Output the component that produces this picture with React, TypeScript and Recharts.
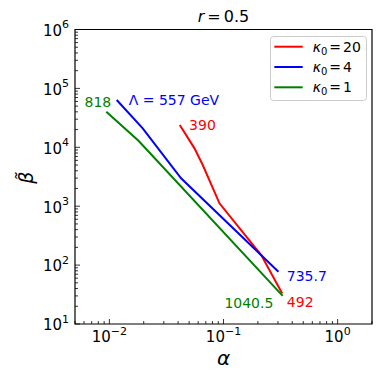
import React from "react";
import {
  LineChart,
  Line,
  XAxis,
  YAxis,
  ReferenceArea,
  ReferenceDot,
  Legend,
} from "recharts";

const FONT = "'DejaVu Sans', sans-serif";

// kappa_0 = 20
const alphaK20 = [0.0414, 0.0557, 0.0658, 0.0922, 0.214, 0.327];
const betaK20 = [23900, 9600, 5000, 1120, 148, 33];
// kappa_0 = 4
const alphaK4 = [0.0116, 0.0196, 0.0425, 0.303];
const betaK4 = [63500, 21000, 2980, 77];
// kappa_0 = 1
const alphaK1 = [0.0094, 0.018, 0.33];
const betaK1 = [40200, 12900, 30];

const kappaValues = ["20", "4", "1"];
const colors = ["#ff0000", "#0000ff", "#008000"];

// Lambda labels at each end of the curves
const startLabels = ["390", "Λ = 557 GeV", "818"];
const endLabels = ["492", "735.7", "1040.5"];

const xMajor = [0.01, 0.1, 1];
const xMajorExp = ["−2", "−1", "0"];
const yMajor = [10, 100, 1000, 1e4, 1e5, 1e6];
const yMajorExp = ["1", "2", "3", "4", "5", "6"];

const xDomain = [0.005, 2];
const yDomain = [10, 1e6];

// label offsets in px from the curve end points: [dx, dy, anchor]
const startOffsets: [number, number, string][] = [
  [9.3, 4.8, "start"],
  [12, 5.2, "start"],
  [5, -4.8, "end"],
];
const endOffsets: [number, number, string][] = [
  [4.6, 13.5, "start"],
  [8.3, 9.2, "start"],
  [-9.3, 11.8, "end"],
];

const toPoints = (xs: number[], ys: number[]) =>
  xs.map((a, i) => ({ a, b: ys[i] }));

const series = [
  { alpha: alphaK20, beta: betaK20 },
  { alpha: alphaK4, beta: betaK4 },
  { alpha: alphaK1, beta: betaK1 },
].map((s, i) => ({
  ...s,
  data: toPoints(s.alpha, s.beta),
  color: colors[i],
  name: kappaValues[i],
}));

// major + minor log ticks inside a domain
function logTicks(lo: number, hi: number) {
  const out: number[] = [];
  for (let e = Math.floor(Math.log10(lo)); e <= Math.ceil(Math.log10(hi)); e++) {
    for (let m = 1; m <= 9; m++) {
      const v = Number((m * Math.pow(10, e)).toPrecision(6));
      if (v >= lo * 0.9999 && v <= hi * 1.0001) out.push(v);
    }
  }
  return out;
}

const majorIndex = (majors: number[], v: number) =>
  majors.findIndex((m) => Math.abs(v / m - 1) < 1e-6);

function XTick(props: any) {
  const { x, y, payload } = props;
  const i = majorIndex(xMajor, payload.value);
  const len = i >= 0 ? 5 : 3;
  return (
    <g>
      <line x1={x} y1={y} x2={x} y2={y - len} stroke="#000" strokeWidth={0.8} />
      {i >= 0 && (
        <text x={x} y={y + 17.5} textAnchor="middle" fontFamily={FONT} fontSize={15} fill="#000">
          <tspan>10</tspan>
          <tspan dy={-7} fontSize={11}>
            {xMajorExp[i]}
          </tspan>
        </text>
      )}
    </g>
  );
}

function YTick(props: any) {
  const { x, y, payload } = props;
  const i = majorIndex(yMajor, payload.value);
  const len = i >= 0 ? 5 : 3;
  return (
    <g>
      <line x1={x} y1={y} x2={x + len} y2={y} stroke="#000" strokeWidth={0.8} />
      {i >= 0 && (
        <text x={x - 6} y={y + 6.3} textAnchor="end" fontFamily={FONT} fontSize={15} fill="#000">
          <tspan>10</tspan>
          <tspan dy={-7.5} fontSize={11}>
            {yMajorExp[i]}
          </tspan>
        </text>
      )}
    </g>
  );
}

function LegendBox() {
  return (
    <svg width={97} height={65} style={{ display: "block" }}>
      <rect x={0.5} y={0.5} width={96} height={64} rx={3} fill="#fff" fillOpacity={0.8} stroke="#cccccc" />
      {series.map((s, i) => {
        const cy = 10.7 + 20.3 * i;
        return (
          <g key={s.name}>
            <line x1={4.3} x2={32.7} y1={cy} y2={cy} stroke={s.color} strokeWidth={2} />
            <text x={42.7} y={cy + 5} fontFamily={FONT} fontSize={14} fill="#000">
              <tspan fontStyle="italic">κ</tspan>
              <tspan fontSize={10} dy={3}>0</tspan>
              <tspan dy={-3} dx={2}>=</tspan>
              <tspan dx={2}>{s.name}</tspan>
            </text>
          </g>
        );
      })}
    </svg>
  );
}

function annot(text: string, off: [number, number, string], color: string) {
  return (p: any) => (
    <text
      x={p.cx + off[0]}
      y={p.cy + off[1]}
      textAnchor={off[2] as any}
      fontFamily={FONT}
      fontSize={14}
      fill={color}
    >
      {text}
    </text>
  );
}

export default function App() {
  return (
    <div style={{ position: "absolute", left: 0, top: 0, width: 382, height: 379, background: "#fff" }}>
      <LineChart
        width={382}
        height={379}
        margin={{ top: 29.5, right: 10, bottom: 0, left: 0 }}
      >
        <XAxis
          dataKey="a"
          type="number"
          scale="log"
          domain={xDomain}
          allowDataOverflow
          ticks={logTicks(xDomain[0], xDomain[1])}
          interval={0}
          tickSize={0}
          tickMargin={0}
          tickLine={false}
          axisLine={false}
          tick={(p: any) => <XTick {...p} />}
          height={55}
          label={(p: any) => {
            const vb = p.viewBox;
            return (
              <text x={vb.x + vb.width / 2} y={vb.y + 41} textAnchor="middle" fontFamily={FONT} fontSize={20} fontStyle="italic" fill="#000">
                α
              </text>
            );
          }}
        />
        <YAxis
          type="number"
          scale="log"
          domain={yDomain}
          allowDataOverflow
          ticks={logTicks(yDomain[0], yDomain[1])}
          interval={0}
          tickSize={0}
          tickMargin={0}
          tickLine={false}
          axisLine={false}
          tick={(p: any) => <YTick {...p} />}
          width={75}
          label={(p: any) => {
            const vb = p.viewBox;
            const cx = 26;
            const cy = vb.y + vb.height / 2 + 1;
            return (
              <text
                x={cx}
                y={cy}
                transform={`rotate(-90 ${cx} ${cy})`}
                textAnchor="middle"
                dominantBaseline="central"
                fontFamily={FONT}
                fontSize={19}
                fontStyle="italic"
                fill="#000"
              >
                β̃
              </text>
            );
          }}
        />
        <ReferenceArea
          x1={xDomain[0]}
          x2={xDomain[1]}
          y1={yDomain[0]}
          y2={yDomain[1]}
          ifOverflow="visible"
          fill="none"
          stroke="#000"
          strokeWidth={1.2}
          label={(p: any) => {
            const vb = p.viewBox;
            return (
              <text x={vb.x + vb.width / 2} y={vb.y - 8} textAnchor="middle" fontFamily={FONT} fontSize={16} fill="#000">
                <tspan fontStyle="italic">r</tspan>
                <tspan dx={3}>=</tspan>
                <tspan dx={3}>0.5</tspan>
              </text>
            );
          }}
        />
        {series.map((s) => (
          <Line
            key={s.name}
            data={s.data}
            dataKey="b"
            type="linear"
            stroke={s.color}
            strokeWidth={2}
            dot={false}
            activeDot={false}
            isAnimationActive={false}
          />
        ))}
        {series.map((s, i) => (
          <ReferenceDot
            key={"s" + s.name}
            x={s.alpha[0]}
            y={s.beta[0]}
            r={0}
            ifOverflow="visible"
            shape={annot(startLabels[i], startOffsets[i], s.color)}
          />
        ))}
        {series.map((s, i) => (
          <ReferenceDot
            key={"e" + s.name}
            x={s.alpha[s.alpha.length - 1]}
            y={s.beta[s.beta.length - 1]}
            r={0}
            ifOverflow="visible"
            shape={annot(endLabels[i], endOffsets[i], s.color)}
          />
        ))}
        <Legend
          layout="horizontal"
          verticalAlign="middle"
          align="center"
          wrapperStyle={{ left: 270, top: 36, width: 97, height: 65 }}
          content={() => <LegendBox />}
        />
      </LineChart>
    </div>
  );
}
